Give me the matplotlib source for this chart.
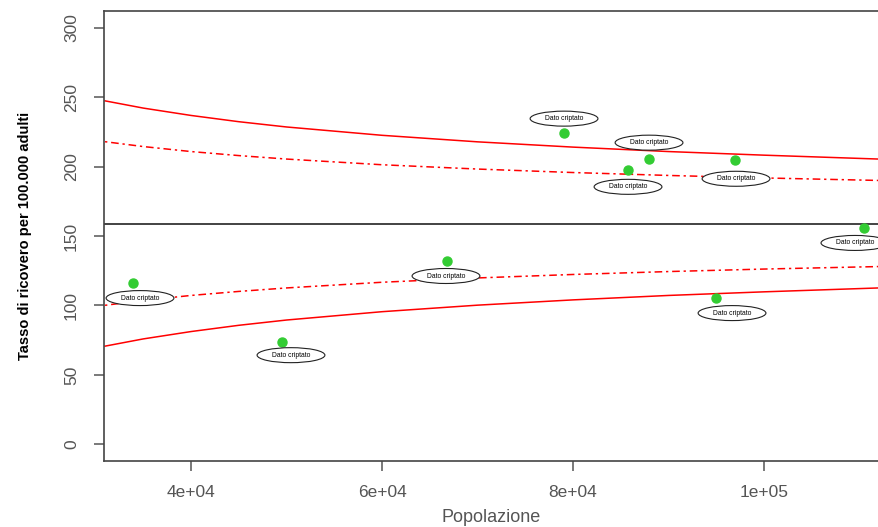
import numpy as np
import matplotlib
matplotlib.use("Agg")
from matplotlib import pyplot as plt
from matplotlib.patches import Ellipse

plt.rcParams['font.family'] = ['Liberation Sans', 'DejaVu Sans']

# observed units
pop = [33900, 49500, 66800, 79100, 85800, 88000, 97000, 95000, 110500]
rate = [116, 73.6, 132, 224, 197.7, 205.6, 204.9, 105.3, 155.8]

# where the "Dato criptato" tags sit
lab_x = [34660, 50470, 66700, 79060, 85760, 87960, 97070, 96650, 109520]
lab_y = [105.3, 64.2, 121.2, 234.5, 185.4, 217.2, 191.2, 94.5, 145.0]

mean_rate = 159

# control limits
lim_pop = [31000, 35000, 40000, 45000, 50000, 60000, 70000, 80000, 90000, 100000, 112000]
up_outer = [247.3, 242.1, 236.8, 232.3, 228.5, 222.5, 217.8, 214.0, 210.8, 208.2, 205.4]
lo_outer = [70.7, 75.9, 81.2, 85.7, 89.5, 95.5, 100.2, 104.0, 107.2, 109.8, 112.6]
up_inner = [217.9, 214.4, 210.8, 207.9, 205.4, 201.3, 198.2, 195.7, 193.6, 191.8, 190.0]
lo_inner = [100.1, 103.6, 107.2, 110.1, 112.6, 116.7, 119.8, 122.3, 124.4, 126.2, 128.0]

fig = plt.figure(figsize=(8.79, 5.27), dpi=100)
ax = fig.add_axes([104/879, 66/527, 1 - 104/879, 450/527])

ax.plot(lim_pop, up_outer, color='#ff0000', lw=1.1)
ax.plot(lim_pop, lo_outer, color='#ff0000', lw=1.1)
ax.plot(lim_pop, up_inner, color='#ff0000', lw=1.1, dashes=(1.5, 2.5, 5, 2.5))
ax.plot(lim_pop, lo_inner, color='#ff0000', lw=1.1, dashes=(1.5, 2.5, 5, 2.5))
ax.axhline(mean_rate, color='#222222', lw=1.2)

ax.plot(pop, rate, 'o', color='#33cc33', ms=6.5, mec='#33cc33', zorder=4)

for lx, ly in zip(lab_x, lab_y):
    e = Ellipse((lx, ly), 7100, 10.8, facecolor='white', edgecolor='#222222', lw=0.8, zorder=5)
    ax.add_patch(e)
    ax.text(lx, ly, 'Dato criptato', fontsize=4.9, ha='center', va='center', zorder=6)

ax.set_xlim(30890, 112040)
ax.set_ylim(-12, 312)
ax.set_xticks([40000, 60000, 80000, 100000])
ax.set_xticklabels(['4e+04', '6e+04', '8e+04', '1e+05'])
ax.set_yticks([0, 50, 100, 150, 200, 250, 300])
ax.set_yticklabels(['0', '50', '100', '150', '200', '250', '300'], rotation=90, va='center')

for s in ['left', 'bottom', 'top']:
    ax.spines[s].set_color('#444444')
    ax.spines[s].set_linewidth(1.2)
ax.spines['right'].set_visible(False)
ax.tick_params(direction='out', length=7, width=1.1, color='#555555', labelcolor='#555555', labelsize=12.5)
ax.tick_params(axis='x', pad=10)
ax.tick_params(axis='y', pad=11)

ax.set_xlabel('Popolazione', fontsize=13, color='#555555', labelpad=7)
ax.set_ylabel('Tasso di ricovero per 100.000 adulti', fontsize=10.5, fontweight='bold', labelpad=23)

fig.savefig('out.png', dpi=100)
